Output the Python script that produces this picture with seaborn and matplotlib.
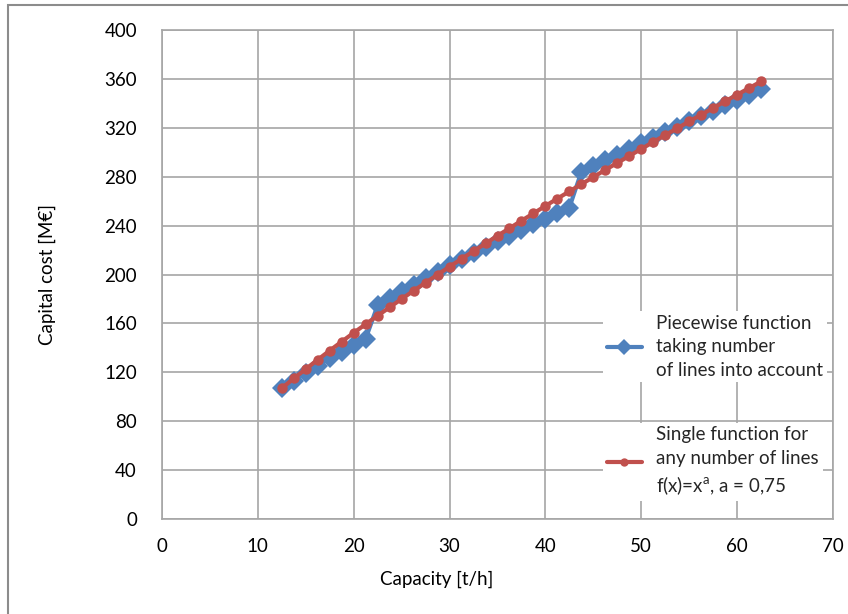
import numpy as np
import pandas as pd
import matplotlib
matplotlib.use("Agg")
import matplotlib.pyplot as plt
import seaborn as sns
from matplotlib.lines import Line2D
from matplotlib.patches import Rectangle

# ---- data ----
capacity = [12.5, 13.75, 15.0, 16.25, 17.5, 18.75, 20.0, 21.25,
            22.5, 23.75, 25.0, 26.25, 27.5, 28.75, 30.0, 31.25, 32.5, 33.75,
            35.0, 36.25, 37.5, 38.75, 40.0, 41.25, 42.5,
            43.75, 45.0, 46.25, 47.5, 48.75, 50.0, 51.25, 52.5, 53.75,
            55.0, 56.25, 57.5, 58.75, 60.0, 61.25, 62.5]

piecewise_cost = [107, 113, 119.5, 125.5, 131.5, 137, 142.5, 147.5,
                  175, 180.7, 186.3, 191.8, 197.2, 202.4, 207.5, 212.5, 217.4,
                  222.3, 227.1, 231.8, 236.5, 241.1, 245.7, 250.3, 254.8,
                  284, 288.7, 293.4, 298, 302.6, 307.2, 311.7, 316.2, 320.7,
                  325.2, 329.6, 334, 338.4, 342.8, 347.2, 351.5]

single_cost = [107.0, 115.0, 122.7, 130.3, 137.8, 145.1, 152.3, 159.4,
               166.3, 173.2, 180.0, 186.7, 193.3, 199.9, 206.4, 212.8, 219.1,
               225.4, 231.7, 237.8, 244.0, 250.0, 256.1, 262.1, 268.0,
               273.9, 279.7, 285.6, 291.3, 297.0, 302.7, 308.4, 314.0, 319.6,
               325.2, 330.7, 336.2, 341.7, 347.1, 352.5, 357.9]

x_ticks = [0, 10, 20, 30, 40, 50, 60, 70]
y_ticks = [0, 40, 80, 120, 160, 200, 240, 280, 320, 360, 400]

label_piecewise = "Piecewise function\ntaking number\nof lines into account"
label_single = "Single function for\nany number of lines\nf(x)=x$^{\\mathregular{a}}$, a = 0,75"

BLUE = "#4F81BD"
RED = "#C0504D"
GRID = "#A6A6A6"
FS = 13.5

sns.set_theme(style="white")
plt.rcParams["font.family"] = ["Lato", "DejaVu Sans"]
plt.rcParams["mathtext.fontset"] = "custom"
plt.rcParams["mathtext.rm"] = "Lato"

W, H = 848, 614
fig = plt.figure(figsize=(W / 100, H / 100), dpi=100)
fig.patch.set_facecolor("white")
ax = fig.add_axes([162 / W, 1 - 519 / H, (833 - 162) / W, (519 - 30) / H])

df = pd.DataFrame({"capacity": capacity, "piecewise": piecewise_cost, "single": single_cost})

sns.lineplot(data=df, x="capacity", y="piecewise", ax=ax, color=BLUE, linewidth=3,
             marker="D", markersize=10.5, markeredgewidth=0, zorder=3)
sns.lineplot(data=df, x="capacity", y="single", ax=ax, color=RED, linewidth=3,
             marker="o", markersize=7.5, markeredgewidth=0, zorder=4)

ax.set_xlim(0, 70)
ax.set_ylim(0, 400)
ax.set_xticks(x_ticks)
ax.set_yticks(y_ticks)
ax.grid(True, color=GRID, linewidth=1.2)
ax.set_axisbelow(True)
for s in ax.spines.values():
    s.set_color(GRID)
    s.set_linewidth(1.2)
ax.tick_params(axis="both", which="major", direction="out", length=5, width=1.2,
               color=GRID, labelsize=FS, labelcolor="black")
ax.tick_params(axis="y", pad=13)
ax.tick_params(axis="x", pad=9)

ax.set_xlabel("Capacity [t/h]", fontsize=FS, color="black")
ax.xaxis.set_label_coords((437 - 162) / (833 - 162), -0.105)
ax.set_ylabel("Capital cost [M€]", fontsize=FS, color="black", labelpad=35)

h1 = Line2D([], [], color=BLUE, linewidth=3, marker="D", markersize=8, markeredgewidth=0)
h2 = Line2D([], [], color=RED, linewidth=3, marker="o", markersize=6, markeredgewidth=0)

common = dict(loc="center left", frameon=True, facecolor="white", edgecolor="none",
              framealpha=1, fontsize=FS, handlelength=1.9, handletextpad=0.75,
              borderpad=0.2, borderaxespad=0)
leg1 = ax.legend([h1], [label_piecewise], bbox_to_anchor=(0.657, 0.352), **common)
for t in leg1.get_texts():
    t.set_linespacing(1.45)
ax.add_artist(leg1)
leg2 = ax.legend([h2], [label_single], bbox_to_anchor=(0.657, 0.117), **common)
for t in leg2.get_texts():
    t.set_linespacing(1.45)

# outer chart-area border
fig.add_artist(Rectangle((8 / W, -0.1), 1.2, (1 - 5 / H) + 0.1, transform=fig.transFigure,
                         fill=False, edgecolor="#8C8C8C", linewidth=1.5))

fig.savefig("out.png", dpi=100, facecolor="white")
